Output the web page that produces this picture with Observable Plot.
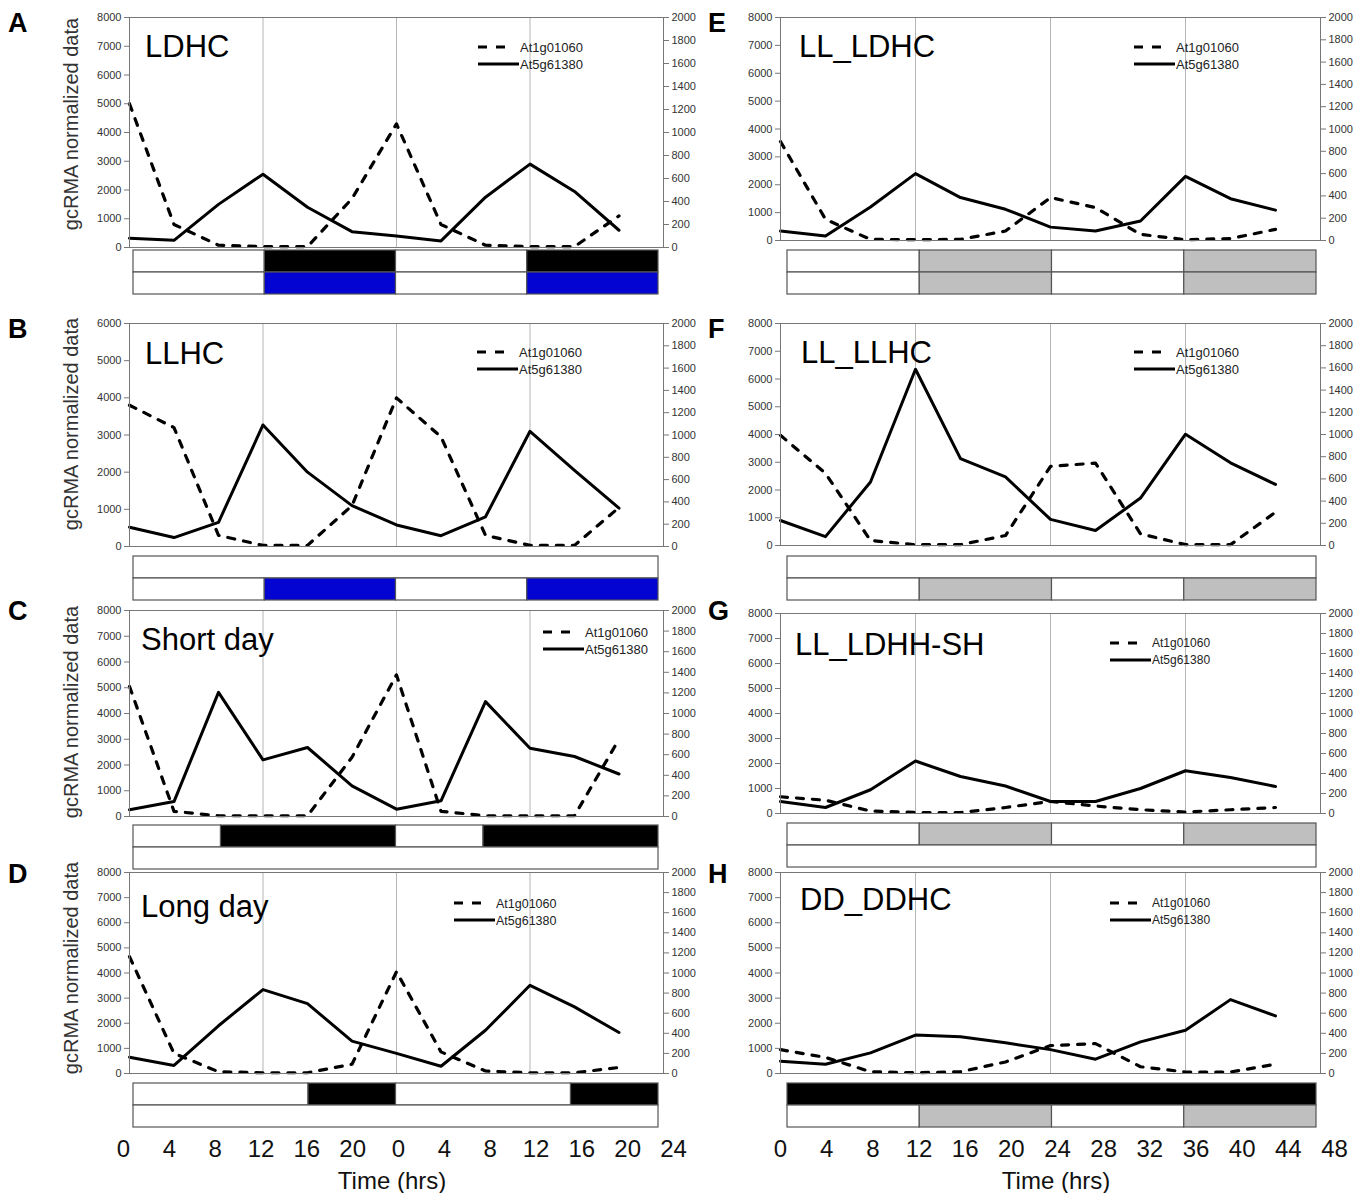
<!DOCTYPE html>
<html>
<head>
<meta charset="utf-8">
<script src="https://cdn.jsdelivr.net/npm/d3@7"></script>
<script src="https://cdn.jsdelivr.net/npm/@observablehq/plot@0.6"></script>
<style>
  body { margin: 0; background: #fff; }
  #fig { position: relative; width: 1364px; height: 1193px; overflow: hidden; background: #fff; }
  .abs { position: absolute; }
  #overlay { position: absolute; left: 0; top: 0; pointer-events: none; }
</style>
</head>
<body>
<div id="fig"></div>
<script>
// ---------------- DATA ----------------
const hours = [0, 4, 8, 12, 16, 20, 24, 28, 32, 36, 40, 44];
const gridHours = [12, 24, 36];
const timeTicks = [0, 4, 8, 12, 16, 20, 24, 28, 32, 36, 40, 44, 48];
const seriesNames = ["At1g01060", "At5g61380"];

const At1g01060_A = [5000, 800, 80, 30, 30, 1700, 4300, 800, 80, 30, 30, 1100];
const At5g61380_A = [320, 250, 1500, 2550, 1400, 550, 400, 230, 1750, 2900, 1950, 600];
const At1g01060_B = [3800, 3200, 300, 30, 30, 1100, 4000, 2950, 300, 30, 30, 1050];
const At5g61380_B = [520, 240, 650, 3270, 2000, 1100, 580, 290, 800, 3100, 2050, 1030];
const At1g01060_C = [5050, 200, 30, 30, 30, 2300, 5500, 200, 30, 30, 30, 3000];
const At5g61380_C = [260, 580, 4820, 2200, 2680, 1190, 285, 610, 4460, 2650, 2330, 1650];
const At1g01060_D = [4650, 800, 70, 30, 30, 370, 4050, 860, 100, 30, 30, 240];
const At5g61380_D = [650, 320, 1900, 3340, 2780, 1290, 800, 290, 1720, 3510, 2650, 1630];
const At1g01060_E = [3550, 760, 40, 30, 40, 340, 1540, 1180, 220, 30, 70, 400];
const At5g61380_E = [340, 160, 1200, 2400, 1540, 1120, 480, 340, 700, 2300, 1500, 1090];
const At1g01060_F = [3970, 2600, 180, 30, 30, 360, 2850, 2970, 420, 30, 30, 1200];
const At5g61380_F = [900, 320, 2290, 6350, 3130, 2470, 940, 540, 1710, 4010, 2980, 2200];
const At1g01060_G = [670, 530, 100, 40, 40, 240, 480, 300, 150, 60, 150, 240];
const At5g61380_G = [480, 240, 950, 2100, 1480, 1100, 480, 480, 1000, 1710, 1440, 1080];
const At1g01060_H = [950, 640, 70, 30, 70, 460, 1110, 1190, 270, 60, 60, 370];
const At5g61380_H = [490, 370, 820, 1530, 1460, 1220, 950, 570, 1260, 1720, 2940, 2290];

// light / temperature condition bars: [start hr, end hr, state]
const barA_light = [[0, 12, "light"], [12, 24, "dark"], [24, 36, "light"], [36, 48, "dark"]];
const barA_temp  = [[0, 12, "warm"], [12, 24, "cold"], [24, 36, "warm"], [36, 48, "cold"]];
const barB_light = [[0, 48, "light"]];
const barB_temp  = [[0, 12, "warm"], [12, 24, "cold"], [24, 36, "warm"], [36, 48, "cold"]];
const barC_light = [[0, 8, "light"], [8, 24, "dark"], [24, 32, "light"], [32, 48, "dark"]];
const barC_temp  = [[0, 48, "warm"]];
const barD_light = [[0, 16, "light"], [16, 24, "dark"], [24, 40, "light"], [40, 48, "dark"]];
const barD_temp  = [[0, 48, "warm"]];
const barE_light = [[0, 12, "light"], [12, 24, "subjective"], [24, 36, "light"], [36, 48, "subjective"]];
const barE_temp  = [[0, 12, "warm"], [12, 24, "subjective"], [24, 36, "warm"], [36, 48, "subjective"]];
const barF_light = [[0, 48, "light"]];
const barF_temp  = [[0, 12, "warm"], [12, 24, "subjective"], [24, 36, "warm"], [36, 48, "subjective"]];
const barG_light = [[0, 12, "light"], [12, 24, "subjective"], [24, 36, "light"], [36, 48, "subjective"]];
const barG_temp  = [[0, 48, "warm"]];
const barH_light = [[0, 48, "dark"]];
const barH_temp  = [[0, 12, "warm"], [12, 24, "subjective"], [24, 36, "warm"], [36, 48, "subjective"]];

const panelLetters = ["A", "B", "C", "D", "E", "F", "G", "H"];
const panelTitles = ["LDHC", "LLHC", "Short day", "Long day", "LL_LDHC", "LL_LLHC", "LL_LDHH-SH", "DD_DDHC"];
const yMaxima = [8000, 6000, 8000, 8000, 8000, 8000, 8000, 8000];

// ---------------- LAYOUT ----------------
const cols = [
  { left: 0,   w: 700, plotL: 129, plotR: 663,  barL: 133, barR: 658,  axisL: 123, axisR: 673,  letterX: 8,   yTitleX: 71, timeX: 392 },
  { left: 690, w: 674, plotL: 780, plotR: 1320, barL: 787, barR: 1316, axisL: 780, axisR: 1334, letterX: 708, yTitleX: null, timeX: 1056 }
];
const geo = [
  { col: 0, top: 17,  bottom: 247,  barTop: 250,  barBottom: 294,  legX: 478,  legY: 47,  legF: 13,   titleX: 145, titleB: 57,  letterB: 32,  yTitleY: 124 },
  { col: 0, top: 323, bottom: 546,  barTop: 556,  barBottom: 600,  legX: 477,  legY: 352, legF: 13,   titleX: 145, titleB: 364, letterB: 338, yTitleY: 424 },
  { col: 0, top: 610, bottom: 816,  barTop: 825,  barBottom: 869,  legX: 543,  legY: 632, legF: 13,   titleX: 141, titleB: 650, letterB: 620, yTitleY: 712 },
  { col: 0, top: 872, bottom: 1073, barTop: 1083, barBottom: 1127, legX: 454,  legY: 903, legF: 12.5, titleX: 141, titleB: 917, letterB: 883, yTitleY: 968 },
  { col: 1, top: 17,  bottom: 240,  barTop: 250,  barBottom: 294,  legX: 1134, legY: 47,  legF: 13,   titleX: 799, titleB: 57,  letterB: 32 },
  { col: 1, top: 323, bottom: 545,  barTop: 556,  barBottom: 600,  legX: 1134, legY: 352, legF: 13,   titleX: 801, titleB: 363, letterB: 338 },
  { col: 1, top: 613, bottom: 813,  barTop: 823,  barBottom: 867,  legX: 1110, legY: 643, legF: 12,   titleX: 795, titleB: 655, letterB: 620 },
  { col: 1, top: 872, bottom: 1073, barTop: 1083, barBottom: 1127, legX: 1110, legY: 903, legF: 12,   titleX: 800, titleB: 910, letterB: 883 }
];

const dashData = [At1g01060_A, At1g01060_B, At1g01060_C, At1g01060_D, At1g01060_E, At1g01060_F, At1g01060_G, At1g01060_H];
const solidData = [At5g61380_A, At5g61380_B, At5g61380_C, At5g61380_D, At5g61380_E, At5g61380_F, At5g61380_G, At5g61380_H];
const lightBars = [barA_light, barB_light, barC_light, barD_light, barE_light, barF_light, barG_light, barH_light];
const tempBars = [barA_temp, barB_temp, barC_temp, barD_temp, barE_temp, barF_temp, barG_temp, barH_temp];

const stateDomain = ["light", "dark", "warm", "cold", "subjective"];
const stateColors = ["#ffffff", "#000000", "#ffffff", "#0303d2", "#bfbfbf"];

const FONT = "'Liberation Sans', Arial, Helvetica, sans-serif";
const DASH = "7,9";

const fig = document.getElementById("fig");
function place(node, left, top) {
  const d = document.createElement("div");
  d.className = "abs";
  d.style.left = left + "px";
  d.style.top = top + "px";
  d.appendChild(node);
  fig.appendChild(d);
}

// ---------------- PANELS ----------------
geo.forEach((g, i) => {
  const C = cols[g.col];
  const ymax = yMaxima[i];
  const rows = hours.map((h, k) => ({ h, a: dashData[i][k], b: solidData[i][k] }));
  const chart = Plot.plot({
    width: C.w,
    height: g.bottom - g.top + 10,
    marginLeft: C.plotL - C.left,
    marginRight: C.left + C.w - C.plotR,
    marginTop: 5,
    marginBottom: 5,
    style: { fontFamily: FONT, fontSize: "11px", color: "#333", background: "transparent", overflow: "visible" },
    x: { domain: [0, 48], axis: null },
    y: { domain: [0, ymax], axis: null },
    marks: [
      Plot.ruleX(gridHours, { stroke: "#b5b5b5", strokeWidth: 1 }),
      Plot.line(rows, { x: "h", y: "a", stroke: "#000", strokeWidth: 3.2, strokeDasharray: DASH }),
      Plot.line(rows, { x: "h", y: "b", stroke: "#000", strokeWidth: 3 }),
      Plot.frame({ stroke: "#777", strokeWidth: 1 }),
      Plot.axisY({ anchor: "left", ticks: d3.range(0, ymax + 1, 1000), tickSize: 5, tickPadding: 3, fontSize: 11, label: null, stroke: "#777",
        tickFormat: d => String(d) }),
      Plot.axisY({ anchor: "right", ticks: d3.range(0, ymax + 1, ymax / 10), tickSize: 5, tickPadding: 3, fontSize: 11, label: null, stroke: "#777",
        tickFormat: d => String(Math.round(d * 2000 / ymax)) })
    ]
  });
  place(chart, C.left, g.top - 5);

  const segs = [
    ...lightBars[i].map(([s, e, st]) => ({ start: s, end: e, state: st, row: "light" })),
    ...tempBars[i].map(([s, e, st]) => ({ start: s, end: e, state: st, row: "temp" }))
  ];
  const bar = Plot.plot({
    width: C.w,
    height: g.barBottom - g.barTop + 2,
    marginLeft: C.barL - C.left,
    marginRight: C.left + C.w - C.barR,
    marginTop: 1,
    marginBottom: 1,
    style: { background: "transparent", overflow: "visible" },
    x: { domain: [0, 48], axis: null },
    y: { domain: ["light", "temp"], axis: null, padding: 0 },
    color: { domain: stateDomain, range: stateColors },
    marks: [
      Plot.barX(segs, { x1: "start", x2: "end", y: "row", fill: "state", stroke: "#555", strokeWidth: 1.2 })
    ]
  });
  place(bar, C.left, g.barTop - 1);
});

// ---------------- TIME AXES ----------------
cols.forEach((C, ci) => {
  const ax = Plot.plot({
    width: C.w,
    height: 30,
    marginLeft: C.axisL - C.left,
    marginRight: C.left + C.w - C.axisR,
    marginTop: 0,
    marginBottom: 28,
    style: { fontFamily: FONT, color: "#111", background: "transparent", overflow: "visible" },
    x: { domain: [0, 48], axis: null },
    marks: [
      Plot.axisX({ ticks: timeTicks, tickSize: 0, tickPadding: 4, fontSize: 24, label: null,
        tickFormat: d => ci === 0 ? String(d === 48 ? 24 : d % 24) : String(d) })
    ]
  });
  place(ax, C.left, 1133);
});

// ---------------- TEXT OVERLAY ----------------
const svg = d3.select(fig).append("svg").attr("id", "overlay").attr("width", 1364).attr("height", 1193);

geo.forEach((g, i) => {
  const C = cols[g.col];
  svg.append("text").attr("x", C.letterX).attr("y", g.letterB)
    .attr("font-family", FONT).attr("font-weight", "bold").attr("font-size", 27).attr("fill", "#000")
    .text(panelLetters[i]);
  svg.append("text").attr("x", g.titleX).attr("y", g.titleB)
    .attr("font-family", FONT).attr("font-size", 31).attr("fill", "#000")
    .text(panelTitles[i]);
  if (C.yTitleX !== null) {
    svg.append("text").attr("transform", `translate(${C.yTitleX},${g.yTitleY}) rotate(-90)`)
      .attr("text-anchor", "middle").attr("dominant-baseline", "central")
      .attr("font-family", FONT).attr("font-size", 20).attr("fill", "#333")
      .text("gcRMA normalized data");
  }
  // legend
  const rowsY = [g.legY, g.legY + 17];
  svg.append("line").attr("x1", g.legX).attr("x2", g.legX + 27).attr("y1", rowsY[0]).attr("y2", rowsY[0])
    .attr("stroke", "#000").attr("stroke-width", 3.2).attr("stroke-dasharray", "9,9");
  svg.append("line").attr("x1", g.legX).attr("x2", g.legX + 41).attr("y1", rowsY[1]).attr("y2", rowsY[1])
    .attr("stroke", "#000").attr("stroke-width", 3);
  seriesNames.forEach((nm, k) => {
    svg.append("text").attr("x", g.legX + 42).attr("y", rowsY[k] + g.legF * 0.36)
      .attr("font-family", FONT).attr("font-size", g.legF).attr("fill", "#222")
      .text(nm);
  });
});

cols.forEach(C => {
  svg.append("text").attr("x", C.timeX).attr("y", 1189).attr("text-anchor", "middle")
    .attr("font-family", FONT).attr("font-size", 24).attr("fill", "#111")
    .text("Time (hrs)");
});
</script>
</body>
</html>
